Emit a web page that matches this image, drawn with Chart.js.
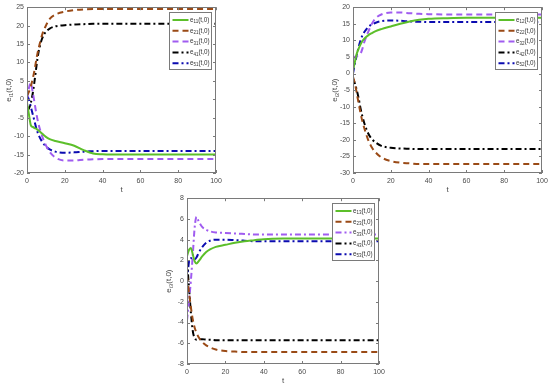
<!DOCTYPE html>
<html>
<head>
<meta charset="utf-8">
<script src="https://cdn.jsdelivr.net/npm/chart.js@4"></script>
<style>
  html, body { margin: 0; padding: 0; background: #fff; }
  body { width: 550px; height: 387px; position: relative; overflow: hidden; }
  canvas { position: absolute; }
</style>
</head>
<body>
<canvas id="c1" width="226" height="195" style="left:0;top:0"></canvas>
<canvas id="c2" width="226" height="195" style="left:326px;top:0"></canvas>
<canvas id="c3" width="229" height="196" style="left:160px;top:191px"></canvas>
<script>
// time samples (shared by every series)
const T = [0, 1, 2, 3, 4, 5, 6, 8, 10, 12, 15, 20, 25, 30, 35, 40, 50, 60, 80, 100];

// panel 1: e_i1(t,0)
const e11 = [-1, -4, -7, -7.5, -7.8, -8, -8.4, -9.3, -10.2, -10.8, -11.3, -11.9, -12.6, -13.8, -14.7, -14.9, -15, -15, -15, -15];
const e21 = [1, 2, 3.5, 5.5, 8, 11, 13.5, 17.5, 20, 21.8, 23, 23.8, 24.2, 24.4, 24.5, 24.5, 24.5, 24.5, 24.5, 24.5];
const e31 = [0, 3, 4.5, 2, -1, -4, -6.5, -10, -12.5, -14.3, -15.8, -16.6, -16.6, -16.4, -16.3, -16.2, -16.2, -16.2, -16.2, -16.2];
const e41 = [-3, -2.5, -1, 1.5, 5, 9, 12.5, 16.5, 18.3, 19.2, 19.8, 20.1, 20.3, 20.4, 20.5, 20.5, 20.5, 20.5, 20.5, 20.5];
const e51 = [1, 0, -2, -4, -6, -8, -9.5, -11.5, -12.8, -13.6, -14.2, -14.5, -14.4, -14.2, -14.1, -14, -14, -14, -14, -14];

// panel 2: e_i2(t,0)
const e12 = [1, 3.5, 6, 7.5, 8.8, 9.8, 10.5, 11.5, 12.2, 12.8, 13.4, 14.2, 15, 15.7, 16.2, 16.5, 16.7, 16.8, 16.8, 16.8];
const e22 = [-1, -3, -6, -9, -12, -14.5, -16.5, -20, -22.3, -23.8, -25.3, -26.4, -26.9, -27.1, -27.3, -27.3, -27.3, -27.3, -27.3, -27.3];
const e32 = [4.5, 5, 5.3, 5.5, 6, 7.5, 9.5, 12.5, 15, 16.7, 17.8, 18.4, 18.4, 18.2, 18, 17.9, 17.8, 17.8, 17.8, 17.8];
const e42 = [-1.5, -3, -5, -7.5, -10.5, -13, -15, -18, -19.8, -20.8, -21.8, -22.4, -22.6, -22.7, -22.8, -22.8, -22.8, -22.8, -22.8, -22.8];
const e52 = [0, 3, 5.5, 8, 10, 11.5, 12.5, 14, 14.8, 15.3, 15.8, 16, 15.9, 15.7, 15.6, 15.5, 15.5, 15.5, 15.5, 15.5];

// panel 3: e_i3(t,0)
const e13 = [2.4, 3.0, 3.2, 2.6, 1.9, 1.7, 1.9, 2.4, 2.8, 3.05, 3.3, 3.5, 3.7, 3.85, 3.95, 4.05, 4.1, 4.1, 4.1, 4.1];
const e23 = [0.5, -1, -2.5, -3.7, -4.5, -5, -5.4, -5.9, -6.2, -6.4, -6.6, -6.75, -6.8, -6.85, -6.85, -6.85, -6.85, -6.85, -6.85, -6.85];
const e33 = [-3.8, -2, 0, 2.5, 5.2, 6.2, 5.8, 5.2, 4.95, 4.8, 4.7, 4.65, 4.6, 4.55, 4.5, 4.5, 4.5, 4.5, 4.5, 4.5];
const e43 = [2, -0.5, -3, -4.8, -5.5, -5.65, -5.6, -5.6, -5.65, -5.65, -5.7, -5.7, -5.7, -5.7, -5.7, -5.7, -5.7, -5.7, -5.7, -5.7];
const e53 = [0, 1.8, 2.2, 2.2, 2.1, 2.3, 2.7, 3.3, 3.7, 3.9, 4.0, 4.0, 3.95, 3.9, 3.85, 3.85, 3.85, 3.85, 3.85, 3.85];

const yTicks1 = [-20, -15, -10, -5, 0, 5, 10, 15, 20, 25];
const yTicks2 = [-30, -25, -20, -15, -10, -5, 0, 5, 10, 15, 20];
const yTicks3 = [-8, -6, -4, -2, 0, 2, 4, 6, 8];

const FONT = '"Liberation Sans", Arial, sans-serif';
const AXIS = '#7a7a7a';
const TXT = '#4a4a4a';
const GREEN = '#5cbf2a', BROWN = '#9a4a16', PURPLE = '#a05cf0', BLACK = '#000000', BLUE = '#0b0bb0';
const DASH = [6, 4], DASHDOT = [6, 3, 2, 3];

// "e" + subscript + "(t,0)"
function richText(ctx, sub, x, y, size, align) {
  const f1 = size + 'px ' + FONT, f2 = (size * 0.72).toFixed(1) + 'px ' + FONT;
  ctx.font = f1;
  const w1 = ctx.measureText('e').width, w3 = ctx.measureText('(t,0)').width;
  ctx.font = f2;
  const w2 = ctx.measureText(sub).width;
  const x0 = align === 'center' ? x - (w1 + w2 + w3) / 2 : x;
  ctx.textAlign = 'left';
  ctx.textBaseline = 'middle';
  ctx.font = f1; ctx.fillText('e', x0, y);
  ctx.font = f2; ctx.fillText(sub, x0 + w1, y + size * 0.3);
  ctx.font = f1; ctx.fillText('(t,0)', x0 + w1 + w2, y);
}

// matlab-ish box, inward ticks, axis titles and legend
const matlabAxes = {
  id: 'matlabAxes',
  afterDraw(chart, args, o) {
    const { ctx, chartArea: a, scales: { x, y } } = chart;
    ctx.save();
    ctx.strokeStyle = AXIS;
    ctx.lineWidth = 1;
    ctx.setLineDash([]);
    ctx.strokeRect(Math.round(a.left) + 0.5, Math.round(a.top) + 0.5, Math.round(a.width) - 1, Math.round(a.height) - 1);
    ctx.beginPath();
    x.ticks.forEach(t => {
      const px = Math.round(x.getPixelForValue(t.value)) + 0.5;
      ctx.moveTo(px, a.bottom); ctx.lineTo(px, a.bottom - 3);
      ctx.moveTo(px, a.top); ctx.lineTo(px, a.top + 3);
    });
    y.ticks.forEach(t => {
      const py = Math.round(y.getPixelForValue(t.value)) + 0.5;
      ctx.moveTo(a.left, py); ctx.lineTo(a.left + 3, py);
      ctx.moveTo(a.right, py); ctx.lineTo(a.right - 3, py);
    });
    ctx.stroke();

    // axis titles
    ctx.fillStyle = TXT;
    ctx.font = '8px ' + FONT;
    ctx.textAlign = 'center';
    ctx.textBaseline = 'middle';
    ctx.fillText('t', (a.left + a.right) / 2, a.bottom + o.tGap);
    ctx.save();
    ctx.translate(o.yTitleX, (a.top + a.bottom) / 2);
    ctx.rotate(-Math.PI / 2);
    richText(ctx, o.ySub, 0, 0, 8, 'center');
    ctx.restore();

    // legend
    const bw = 42, bh = 57;
    const bx = Math.round(a.right - 5 - bw) + 0.5, by = Math.round(a.top + 5) + 0.5;
    ctx.fillStyle = '#fff';
    ctx.fillRect(bx, by, bw, bh);
    ctx.strokeStyle = AXIS;
    ctx.strokeRect(bx, by, bw, bh);
    chart.data.datasets.forEach((ds, i) => {
      const ry = by + 7.5 + i * 10.8;
      ctx.strokeStyle = ds.borderColor;
      ctx.lineWidth = 2;
      ctx.setLineDash(ds.borderDash || []);
      ctx.beginPath();
      ctx.moveTo(bx + 3, ry); ctx.lineTo(bx + 19, ry);
      ctx.stroke();
      ctx.fillStyle = '#333';
      richText(ctx, ds.label, bx + 20.5, ry, 6.3, 'left');
    });
    ctx.restore();
  }
};

function series(label, data, color, dash) {
  return {
    label,
    data: T.map((t, i) => ({ x: t, y: data[i] })),
    borderColor: color,
    borderDash: dash,
    borderWidth: 2,
    pointRadius: 0,
    cubicInterpolationMode: 'monotone',
    fill: false
  };
}

function panel(id, datasets, yTicks, ySub, pad, xH) {
  const yMin = yTicks[0], yMax = yTicks[yTicks.length - 1];
  return new Chart(document.getElementById(id), {
    type: 'line',
    data: { datasets },
    plugins: [matlabAxes],
    options: {
      responsive: false,
      animation: false,
      devicePixelRatio: 1,
      layout: { padding: pad },
      plugins: {
        legend: { display: false },
        tooltip: { enabled: false },
        matlabAxes: { ySub, yTitleX: 9, tGap: 17 }
      },
      scales: {
        x: {
          type: 'linear', min: 0, max: 100,
          grid: { display: false, drawTicks: false }, border: { display: false },
          ticks: { stepSize: 20, color: TXT, font: { size: 7, family: FONT }, padding: 4, maxRotation: 0 },
          afterFit(s) { s.height = xH; }
        },
        y: {
          min: yMin, max: yMax,
          grid: { display: false, drawTicks: false }, border: { display: false },
          afterBuildTicks(s) { s.ticks = yTicks.map(v => ({ value: v })); },
          ticks: { color: TXT, font: { size: 7, family: FONT }, padding: 3 },
          afterFit(s) { s.width = 27; }
        }
      }
    }
  });
}

panel('c1', [
  series('11', e11, GREEN, []),
  series('21', e21, BROWN, DASH),
  series('31', e31, PURPLE, DASH),
  series('41', e41, BLACK, DASHDOT),
  series('51', e51, BLUE, DASHDOT)
], yTicks1, 'i1', { top: 7, right: 10, left: 0, bottom: 0 }, 22);

panel('c2', [
  series('12', e12, GREEN, []),
  series('22', e22, BROWN, DASH),
  series('32', e32, PURPLE, DASH),
  series('42', e42, BLACK, DASHDOT),
  series('52', e52, BLUE, DASHDOT)
], yTicks2, 'i2', { top: 7, right: 10, left: 0, bottom: 0 }, 22);

panel('c3', [
  series('13', e13, GREEN, []),
  series('23', e23, BROWN, DASH),
  series('33', e33, PURPLE, DASHDOT),
  series('43', e43, BLACK, DASHDOT),
  series('53', e53, BLUE, DASHDOT)
], yTicks3, 'i3', { top: 7, right: 10, left: 0, bottom: 0 }, 23);
</script>
</body>
</html>
